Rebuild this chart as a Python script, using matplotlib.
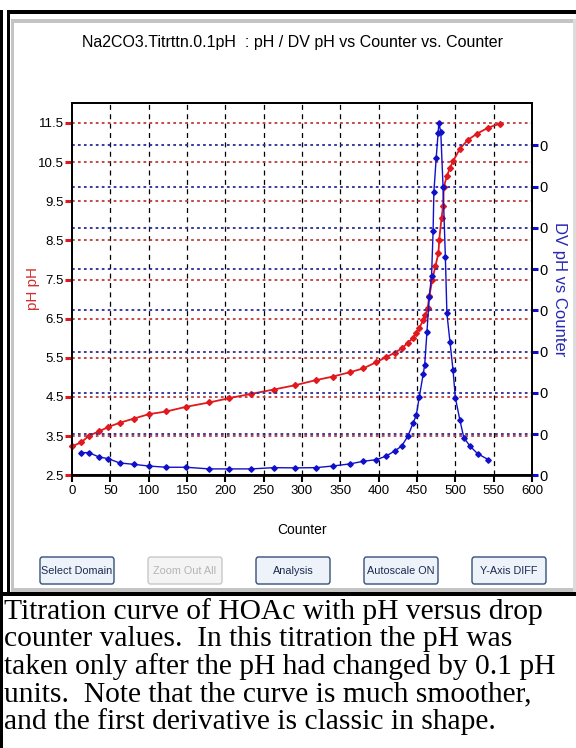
import matplotlib
matplotlib.use("Agg")
import matplotlib.pyplot as plt
from matplotlib.patches import Rectangle, FancyBboxPatch
from matplotlib.ticker import FixedLocator, FixedFormatter

# ---------------- data ----------------
counter_ph = [0, 12, 22, 35, 47, 62, 81, 100, 123, 149, 179, 205, 234, 263, 291,
              318, 340, 362, 380, 397, 409, 421, 430, 438, 445, 449, 453, 458, 461,
              464, 466, 470, 474, 478, 479, 482, 484, 485, 489, 493, 497, 506, 516,
              528, 542, 558]
ph = [3.24, 3.34, 3.51, 3.62, 3.73, 3.84, 3.95, 4.06, 4.13, 4.25, 4.36, 4.47, 4.58,
      4.69, 4.80, 4.93, 5.02, 5.13, 5.23, 5.39, 5.51, 5.63, 5.74, 5.88, 6.01, 6.14,
      6.26, 6.46, 6.59, 6.78, 7.07, 7.50, 7.84, 8.18, 8.52, 9.07, 9.37, 9.87, 10.14,
      10.35, 10.52, 10.84, 11.06, 11.22, 11.37, 11.48]

counter_dv = [12, 22, 35, 47, 62, 81, 100, 123, 149, 179, 205, 234, 263, 291, 318,
              340, 362, 380, 397, 409, 421, 430, 438, 445, 449, 453, 458, 460, 463,
              466, 469, 471, 472, 475, 477.5, 478.5, 481, 484, 487, 489, 493, 497,
              500, 506, 511, 519, 529, 543]
dv = [0.0110, 0.0110, 0.0089, 0.0081, 0.0060, 0.0053, 0.0045, 0.0039, 0.0039, 0.0031,
      0.0031, 0.0031, 0.0037, 0.0036, 0.0037, 0.0045, 0.0055, 0.0068, 0.0076, 0.0092,
      0.0118, 0.0142, 0.0189, 0.0254, 0.0291, 0.0380, 0.0489, 0.0534, 0.0696, 0.0866,
      0.0967, 0.1184, 0.1372, 0.1537, 0.1659, 0.1707, 0.1667, 0.1397, 0.1060, 0.0785,
      0.0647, 0.0510, 0.0377, 0.0267, 0.0183, 0.0142, 0.0105, 0.0076]

x_ticks = [0, 50, 100, 150, 200, 250, 300, 350, 400, 450, 500, 550, 600]
ph_ticks = [2.5, 3.5, 4.5, 5.5, 6.5, 7.5, 8.5, 9.5, 10.5, 11.5]
dv_ticks = [0.0, 0.02, 0.04, 0.06, 0.08, 0.10, 0.12, 0.14, 0.16]
dv_tick_labels = ["0"] * len(dv_ticks)

title = "Na2CO3.Titrttn.0.1pH  : pH / DV pH vs Counter vs. Counter"
buttons = ["Select Domain", "Zoom Out All", "Analysis", "Autoscale ON", "Y-Axis DIFF"]
caption = ["Titration curve of HOAc with pH versus drop",
           "counter values.  In this titration the pH was",
           "taken only after the pH had changed by 0.1 pH",
           "units.  Note that the curve is much smoother,",
           "and the first derivative is classic in shape."]

# ---------------- figure ----------------
W, H = 576, 748
fig = plt.figure(figsize=(W / 100, H / 100), dpi=100)
fig.patch.set_facecolor("white")
renderer = fig.canvas.get_renderer()

SANS = "Liberation Sans"


def fx(px):
    return px / W


def fy(py):
    return 1 - py / H


def fit_size(text, target, base=12, **kw):
    p = fig.text(0, 0, text, fontsize=base, **kw)
    w = p.get_window_extent(renderer).width
    p.remove()
    return base * target / w


def rect(x0, y0, x1, y1, color, z=0):
    fig.patches.append(Rectangle((fx(x0), fy(y1)), fx(x1) - fx(x0), fy(y0) - fy(y1),
                                 transform=fig.transFigure, facecolor=color,
                                 edgecolor="none", zorder=z))

# frame / window borders
rect(0, 10, 3, 748, "black")
rect(7, 10, 10, 594, "black")
rect(7, 10, 576, 14, "black")
rect(11, 19, 576, 23, "#c4c4c4")
rect(11, 19, 14, 591, "#c4c4c4")
rect(11, 588, 576, 592, "#c4c4c4")
rect(573, 19, 576, 592, "#dcdcdc")
rect(0, 592, 576, 596, "black")

# ---------------- axes ----------------
ax_l, ax_r, ax_t, ax_b = 72, 532, 103.3, 475.3
ax = fig.add_axes([fx(ax_l), fy(ax_b), fx(ax_r) - fx(ax_l), fy(ax_t) - fy(ax_b)])
ax.set_xlim(0, 600)
ax.set_ylim(2.5, 12.0)
ax2 = ax.twinx()
ax2.set_ylim(0, 0.1804)

red = "#e0191e"
blue = "#1010c8"

# grid lines
for xv in x_ticks[1:-1]:
    ax.axvline(xv, color="black", lw=0.9, ls=(0, (4, 3.5)), zorder=1)
for yv in ph_ticks[1:]:
    ax.axhline(yv, color="#c03a3a", lw=1.3, ls=(0, (1.5, 1.8)), zorder=1)
for yv in dv_ticks[1:]:
    ax2.axhline(yv, color="#2a2a9a", lw=1.3, ls=(0, (1.5, 1.8)), zorder=1)

ax.plot(counter_ph, ph, color=red, lw=1.3, marker="D", ms=3.0, mec=red, mfc=red,
        zorder=3, clip_on=False)
ax2.plot(counter_dv, dv, color=blue, lw=1.0, marker="D", ms=2.8, mec=blue, mfc=blue,
         zorder=3)

tick_fs = 9.5

ax.xaxis.set_major_locator(FixedLocator(x_ticks))
ax.set_xticklabels([str(v) for v in x_ticks], fontsize=tick_fs, family=SANS)
ax.yaxis.set_major_locator(FixedLocator(ph_ticks))
ax.set_yticklabels([str(v) for v in ph_ticks], fontsize=tick_fs, family=SANS)
ax.tick_params(axis="x", direction="out", length=5, width=1.5, color="black", pad=2)
ax.tick_params(axis="y", direction="out", length=5, width=2.2, color=red, pad=1)
ax2.yaxis.set_major_locator(FixedLocator(dv_ticks))
ax2.yaxis.set_major_formatter(FixedFormatter(dv_tick_labels))
for t in ax2.get_yticklabels():
    t.set_fontsize(tick_fs + 1)
    t.set_family(SANS)
ax2.tick_params(axis="y", direction="out", length=4, width=2.2, color=blue, pad=1)

for a in (ax, ax2):
    for s in a.spines.values():
        s.set_linewidth(1.3)
        s.set_color("black")
ax.spines["bottom"].set_linewidth(2)

# labels
fig.text(fx(293), fy(43), title, ha="center", va="center", fontsize=11.5, family=SANS)
fig.text(fx(302), fy(530), "Counter", ha="center", va="center", fontsize=10, family=SANS)
fig.text(fx(33), fy(288), "pH pH", ha="center", va="center", rotation=90,
         fontsize=11, color="#d03030", family=SANS)
fig.text(fx(560), fy(289), "DV pH vs Counter", ha="center", va="center",
         rotation=-90, fontsize=12, color="#2828b4", family=SANS)

# buttons
btn_x = [40, 148, 256, 364, 472]
btn_w = 74
btn_fs = 7.8
for bx, label in zip(btn_x, buttons):
    disabled = label == "Zoom Out All"
    fig.patches.append(FancyBboxPatch((fx(bx), fy(584)), fx(btn_w), fy(557) - fy(584),
                                      boxstyle="round,pad=0,rounding_size=0.004",
                                      transform=fig.transFigure,
                                      facecolor="#f4f4f4" if disabled else "#eef2f9",
                                      edgecolor="#c8c8c8" if disabled else "#34507a",
                                      lw=1.0))
    fig.text(fx(bx + btn_w / 2), fy(570.5), label, ha="center", va="center",
             fontsize=btn_fs, family=SANS,
             color="#b4b4b4" if disabled else "#1a2a50")

# caption (scaled so the first line spans ~540 px)
cap_size = fit_size(caption[0], 540, base=16, family="Liberation Serif")
line_y = [612, 639.5, 667, 694.5, 722]
for ly, line in zip(line_y, caption):
    fig.text(fx(4), fy(ly), line, ha="left", va="center", fontsize=cap_size,
             family="Liberation Serif", color="black")

fig.savefig("out.png", dpi=100, facecolor="white")
